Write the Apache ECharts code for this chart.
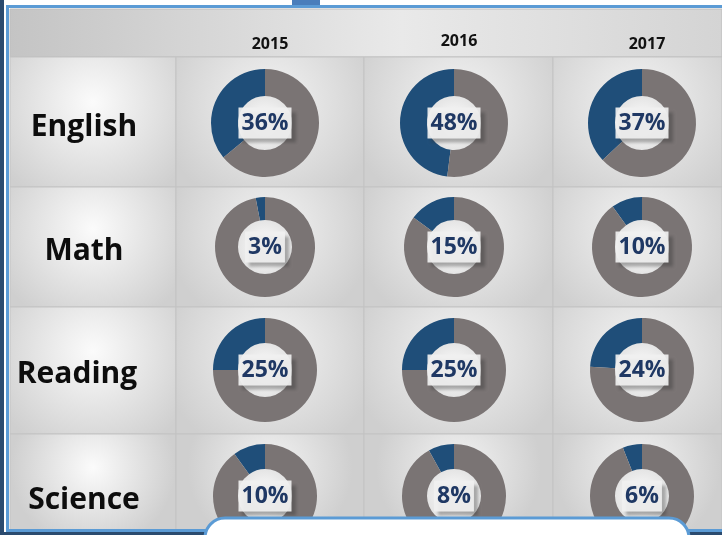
<!DOCTYPE html>
<html><head><meta charset="utf-8">
<script src="https://cdn.jsdelivr.net/npm/echarts@6/dist/echarts.min.js"></script>
<style>html,body{margin:0;padding:0;background:#fff}#c{width:722px;height:535px}</style>
</head><body><div id="c"></div>
<script>
const years = ['2015', '2016', '2017'];
const subjects = ['English', 'Math', 'Reading', 'Science'];
const english = [36, 48, 37];
const math = [3, 15, 10];
const reading = [25, 25, 24];
const science = [10, 8, 6];
const values = [english, math, reading, science];

// layout (styling only)
const colEdges = [10, 176, 364, 553, 722];
const rowEdges = [9, 57, 187, 307, 434, 530];
const donutX = [265, 454, 642];
const donutY = [123, 247, 370, 496];
const labelX = [84, 84, 77, 84];
const outerR = [54, 50, 52, 52];
const innerR = 27;
const BLUE = '#1f4e79', GRAY = '#7a7474';

const chart = echarts.init(document.getElementById('c'), null, {renderer: 'canvas'});
const graphics = [];
// header background
graphics.push({type: 'rect', z: 0, shape: {x: colEdges[0], y: rowEdges[0], width: 722 - colEdges[0], height: rowEdges[1] - rowEdges[0]},
  style: {fill: {type: 'linear', x: 0, y: 0, x2: 1, y2: 0, colorStops: [{offset: 0, color: '#c4c4c4'}, {offset: 0.55, color: '#e9e9e9'}, {offset: 1, color: '#d4d4d4'}]}, stroke: '#bdbdbd', lineWidth: 1}});
// cells
for (let r = 0; r < subjects.length; r++) {
  for (let c = 0; c < 4; c++) {
    const x = colEdges[c], y = rowEdges[r + 1];
    const w = colEdges[c + 1] - x, h = rowEdges[r + 2] - y;
    graphics.push({type: 'rect', z: 0, shape: {x: x, y: y, width: w, height: h},
      style: {fill: {type: 'radial', x: 0.5, y: 0.35, r: 0.85, colorStops: [{offset: 0, color: c === 0 ? '#fbfbfb' : '#f3f3f3'}, {offset: 1, color: '#cfcfcf'}]},
        stroke: '#c3c3c3', lineWidth: 1}});
  }
  graphics.push({type: 'text', z: 5, style: {text: subjects[r], x: labelX[r], y: donutY[r] + 4, align: 'center', verticalAlign: 'middle',
    font: 'bold 30px "Open Sans"', fill: '#0d0d0d'}});
}
const yearY = [44, 41, 44];
years.forEach((yr, i) => {
  graphics.push({type: 'text', z: 5, style: {text: yr, x: donutX[i] + 5, y: yearY[i], align: 'center', verticalAlign: 'middle',
    font: 'bold 16px "Open Sans"', fill: '#111'}});
});
// frame
graphics.push({type: 'rect', z: 90, shape: {x: 0, y: 0, width: 722, height: 5}, style: {fill: '#ffffff'}});
graphics.push({type: 'rect', z: 91, shape: {x: 292, y: 0, width: 28, height: 6}, style: {fill: '#4a7ebb'}});
graphics.push({type: 'rect', z: 92, shape: {x: 6, y: 5, width: 716, height: 3}, style: {fill: '#5b9bd5'}});
graphics.push({type: 'rect', z: 92, shape: {x: 0, y: 0, width: 4, height: 535}, style: {fill: '#2b4b6f'}});
graphics.push({type: 'rect', z: 91, shape: {x: 4, y: 0, width: 2, height: 535}, style: {fill: '#ffffff'}});
graphics.push({type: 'rect', z: 92, shape: {x: 6, y: 5, width: 3, height: 530}, style: {fill: '#5b9bd5'}});
graphics.push({type: 'rect', z: 92, shape: {x: 6, y: 529, width: 716, height: 3}, style: {fill: '#5b9bd5'}});
graphics.push({type: 'rect', z: 92, shape: {x: 4, y: 532, width: 718, height: 3}, style: {fill: '#2b4b6f'}});
// white callout box at bottom
graphics.push({type: 'rect', z: 95, shape: {x: 205, y: 518, width: 484, height: 40, r: 20}, style: {fill: '#ffffff', stroke: '#5b9bd5', lineWidth: 3}});

const series = [];
for (let r = 0; r < subjects.length; r++) {
  for (let c = 0; c < years.length; c++) {
    const v = values[r][c];
    series.push({type: 'pie', z: 3, silent: true, center: [donutX[c], donutY[r]], radius: [0, innerR],
      label: {show: false}, labelLine: {show: false},
      itemStyle: {color: {type: 'radial', x: 0.5, y: 0.5, r: 0.5, colorStops: [{offset: 0, color: '#ffffff'}, {offset: 1, color: '#e4e4e4'}]}},
      data: [{value: 1}]});
    series.push({type: 'pie', z: 4, silent: true, center: [donutX[c], donutY[r]], radius: [innerR, outerR[r]],
      startAngle: 90, clockwise: false, avoidLabelOverlap: false,
      labelLine: {show: false},
      data: [
        {value: v, name: subjects[r] + ' ' + years[c], itemStyle: {color: BLUE},
          label: {show: true, position: 'center', formatter: '{c}%', fontSize: 23, fontWeight: 'bold', fontFamily: 'Open Sans',
            color: '#1f3864', backgroundColor: 'rgba(240,240,240,0.92)', padding: [5, 3, 3, 3],
            shadowColor: 'rgba(50,50,50,0.4)', shadowBlur: 3, shadowOffsetX: 4, shadowOffsetY: 4}},
        {value: 100 - v, name: 'rest', itemStyle: {color: GRAY}, label: {show: false}}
      ]});
  }
}

chart.setOption({animation: false, graphic: {elements: graphics}, series: series});
</script></body></html>
